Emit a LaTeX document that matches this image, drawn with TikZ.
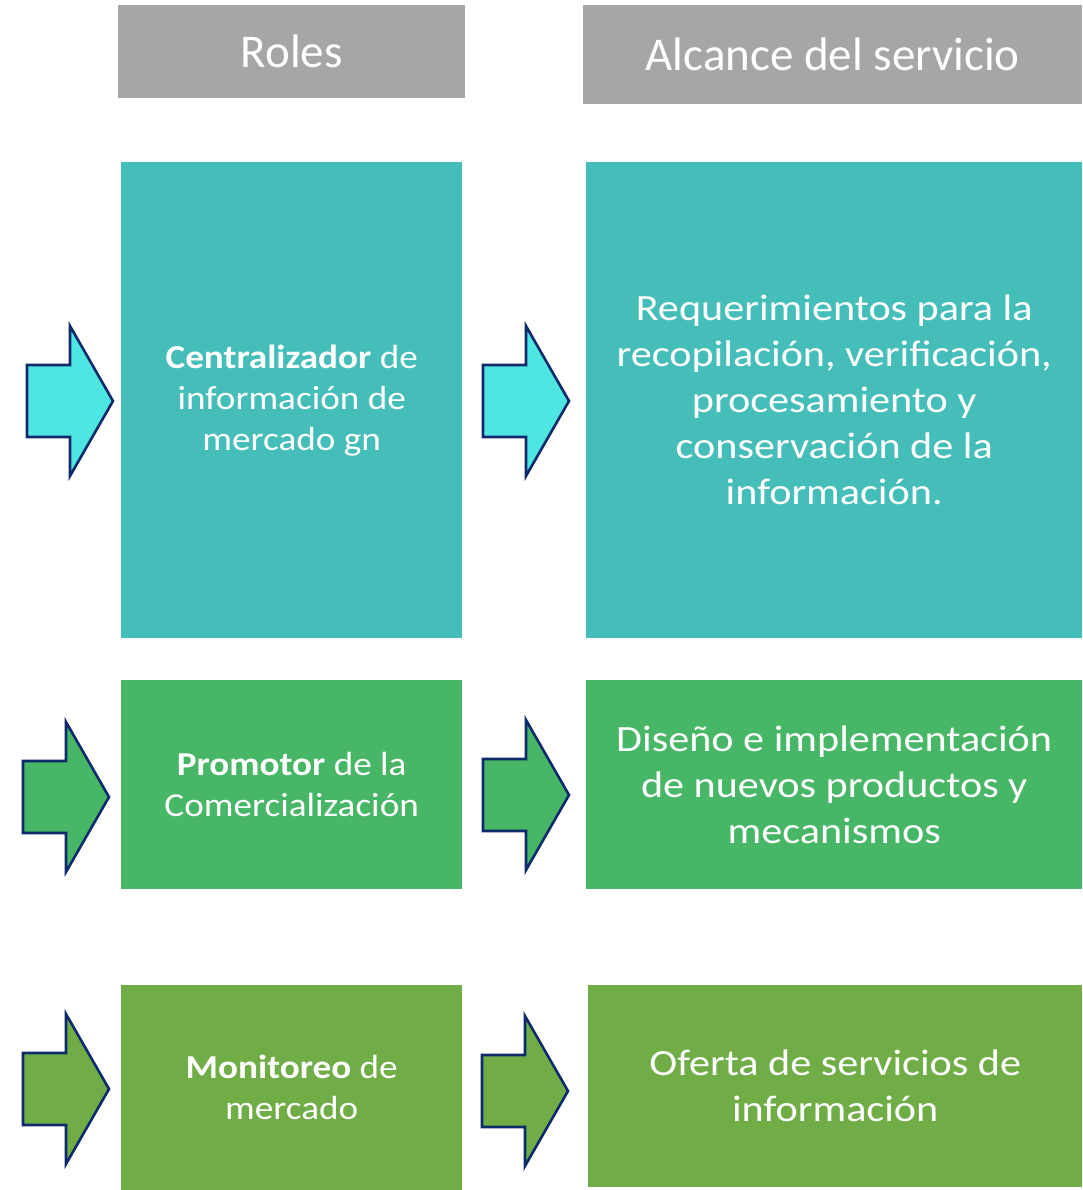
\documentclass[tikz,border=0pt]{standalone}
\usepackage{fontspec}
\setmainfont{Carlito}
\newfontfamily\rolfuente[FakeStretch=1.11]{Carlito}
\newfontfamily\alcfuente[FakeStretch=1.14]{Carlito}
\usepackage{xcolor}
\usepackage{tikz}
\usetikzlibrary{positioning,shapes}

\definecolor{gris}{HTML}{A6A6A6}
\definecolor{turquesa}{HTML}{45BDB9}
\definecolor{cian}{HTML}{4DE6E0}
\definecolor{verde}{HTML}{47B666}
\definecolor{oliva}{HTML}{70AD47}
\definecolor{marino}{HTML}{0E2A6B}

\tikzset{
	caja/.style={rectangle, fill=#1, text=white, align=center, inner sep=0pt, anchor=north west},
	rol/.style={font=\rolfuente\fontsize{33.5}{41}\selectfont},
	alcance/.style={font=\alcfuente\fontsize{37}{46}\selectfont},
	titulo/.style={font=\fontsize{47}{56}\selectfont},
	flecha/.style={draw=marino, line width=2.6pt, fill=#1, line join=miter}
}

% flecha: cola en (x,y), color
\newcommand{\flecha}[3]{\draw[flecha=#3] (#1,#2) ++(0,-36) -- ++(43,0) -- ++(0,-39) -- ++(43,75) -- ++(-43,75) -- ++(0,-39) -- ++(-43,0) -- cycle;}

\begin{document}
\begin{tikzpicture}[x=1pt, y=-1pt]
	\useasboundingbox (0,0) rectangle (1082,1190);
	
	% Encabezados
	\node[caja=gris, titulo, minimum width=347pt, minimum height=93pt] (roles) at (118,5) {Roles};
	\node[caja=gris, titulo, minimum width=499pt, minimum height=99pt] (servicio) at (583,5) {Alcance del servicio};
	
	% Fila 1
	\node[caja=turquesa, rol, minimum width=341pt, minimum height=476pt] (centralizador) at (121,162) {\textbf{Centralizador} de\\información de\\mercado gn};
	\node[caja=turquesa, alcance, minimum width=496pt, minimum height=476pt] (requerimientos) at (586,162) {Requerimientos para la\\recopilación, verificación,\\procesamiento y\\conservación de la\\información.};
	
	% Fila 2
	\node[caja=verde, rol, minimum width=341pt, minimum height=209pt] (promotor) at (121,680) {\textbf{Promotor} de la\\Comercialización};
	\node[caja=verde, alcance, minimum width=496pt, minimum height=209pt] (diseno) at (586,680) {Diseño e implementación\\de nuevos productos y\\mecanismos};
	
	% Fila 3
	\node[caja=oliva, rol, minimum width=341pt, minimum height=205pt] (monitoreo) at (121,985) {\textbf{Monitoreo} de\\mercado};
	\node[caja=oliva, alcance, minimum width=494pt, minimum height=202pt] (oferta) at (588,985) {Oferta de servicios de\\información};
	
	% Flechas
	\flecha{27}{401}{cian}
	\flecha{483}{401}{cian}
	\flecha{23}{797}{verde}
	\flecha{483}{795}{verde}
	\flecha{23}{1089}{oliva}
	\flecha{482}{1091}{oliva}
\end{tikzpicture}
\end{document}
